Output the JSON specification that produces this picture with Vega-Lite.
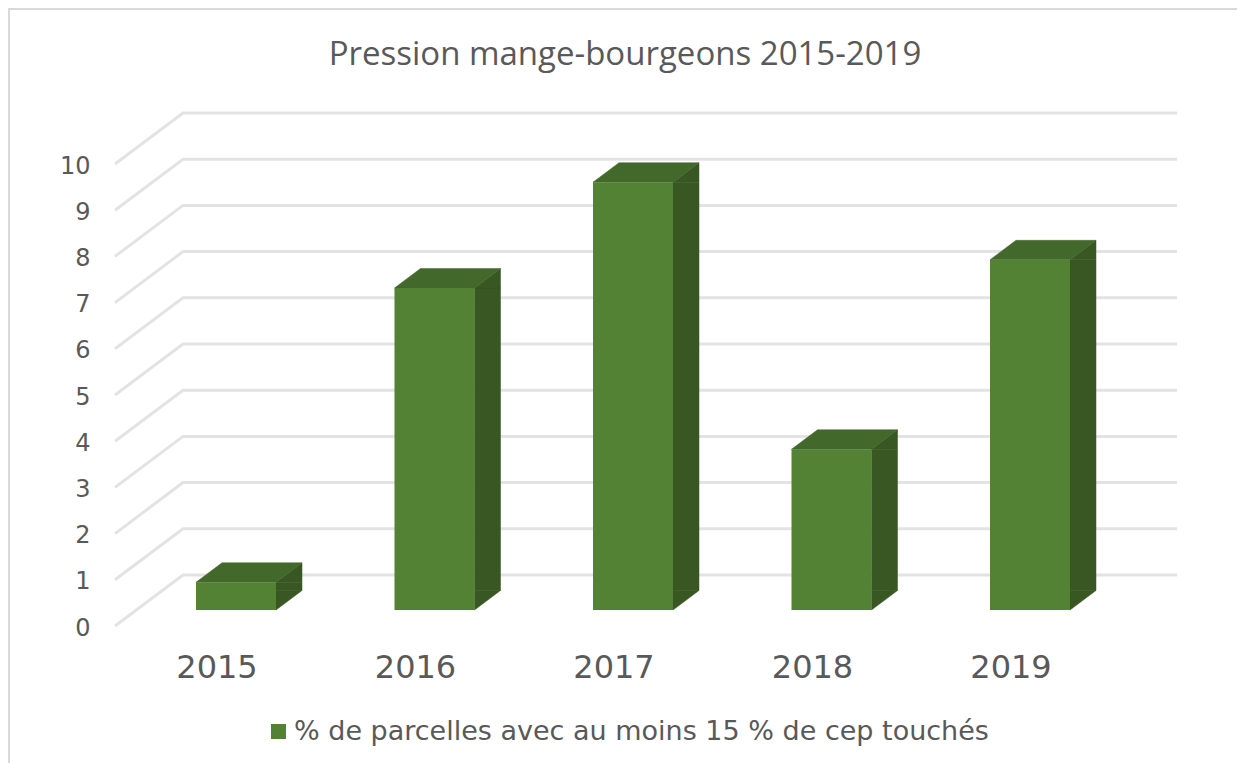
{
"$schema":"https://vega.github.io/schema/vega-lite/v6.json",
"width":992.5,"height":462,
"autosize":{"type":"none"},
"padding":{"left":136.75,"top":148,"right":108.75,"bottom":153},
"background":"white",
"title":{"text":"Pression mange-bourgeons 2015-2019","font":"Open Sans","fontSize":33,"fontWeight":"normal","color":"#595959","anchor":"middle","frame":"group","dx":-8,"offset":-93,"baseline":"alphabetic"},
"config":{"view":{"stroke":null}},
"data":{"values":[
{"annee":"2015","valeur":0.6,"serie":"% de parcelles avec au moins 15 % de cep touchés"},
{"annee":"2016","valeur":6.97,"serie":"% de parcelles avec au moins 15 % de cep touchés"},
{"annee":"2017","valeur":9.26,"serie":"% de parcelles avec au moins 15 % de cep touchés"},
{"annee":"2018","valeur":3.48,"serie":"% de parcelles avec au moins 15 % de cep touchés"},
{"annee":"2019","valeur":7.58,"serie":"% de parcelles avec au moins 15 % de cep touchés"}
]},
"datasets":{"graduations":[{"g":0},{"g":1},{"g":2},{"g":3},{"g":4},{"g":5},{"g":6},{"g":7},{"g":8},{"g":9},{"g":10}]},
"layer":[
{"mark":{"type":"point","shape":"M-227 153L-227 -601L1001 -601","size":4,"filled":false,"stroke":"#d9d9d9","strokeWidth":2,"opacity":1},
 "encoding":{"x":{"datum":"2015"},"y":{"datum":0}}},
{"data":{"name":"graduations"},
 "mark":{"type":"point","shape":"M-121 16L-53 -35L941 -35","size":4,"filled":false,"stroke":"#e3e3e3","strokeWidth":3,"opacity":1},
 "encoding":{"x":{"datum":"2015"},"y":{"field":"g","type":"quantitative"}}},
{"mark":{"type":"bar","width":26,"xOffset":53,"y2Offset":-19.5,"fill":"#385723","stroke":"#385723","strokeWidth":0.5},
 "encoding":{"x":{"field":"annee","type":"nominal"},"y":{"field":"valeur","type":"quantitative"},"y2":{"datum":0}}},
{"mark":{"type":"point","shape":"M40 0L66 -19.5L66 0Z","size":4,"filled":true,"fill":"#385723","stroke":"#385723","strokeWidth":0.5,"strokeJoin":"round","opacity":1},
 "encoding":{"x":{"field":"annee","type":"nominal"},"y":{"field":"valeur","type":"quantitative"}}},
{"mark":{"type":"point","shape":"M40 0L66 -19.5L40 -19.5Z","size":4,"filled":true,"fill":"#385723","stroke":"#385723","strokeWidth":0.5,"strokeJoin":"round","opacity":1},
 "encoding":{"x":{"field":"annee","type":"nominal"},"y":{"datum":0}}},
{"mark":{"type":"point","shape":"M-40 0L40 0L66 -19.5L-14 -19.5Z","size":4,"filled":true,"fill":"#43682b","stroke":"#43682b","strokeWidth":0.5,"strokeJoin":"round","opacity":1},
 "encoding":{"x":{"field":"annee","type":"nominal"},"y":{"field":"valeur","type":"quantitative"}}},
{"mark":{"type":"bar","width":80},
 "encoding":{
  "x":{"field":"annee","type":"nominal","title":null,"sort":["2015","2016","2017","2018","2019"],
   "scale":{"paddingInner":0,"paddingOuter":0},
   "axis":{"domain":false,"ticks":false,"labelAngle":0,"labelAlign":"center","labelFont":"DejaVu Sans","labelFontSize":32,"labelColor":"#595959","labelOffset":-19,"labelPadding":57,"grid":false}},
  "y":{"field":"valeur","type":"quantitative","title":null,
   "scale":{"domain":[0,10],"nice":false,"zero":true},
   "axis":{"domain":false,"ticks":false,"grid":false,"values":[0,1,2,3,4,5,6,7,8,9,10],"labelFont":"DejaVu Sans","labelFontSize":24,"labelColor":"#595959","labelPadding":46.75,"labelOffset":18}},
  "y2":{"datum":0},
  "color":{"field":"serie","type":"nominal","title":null,"scale":{"range":["#548235"]},
   "legend":{"orient":"none","legendX":128.25,"legendY":570,"symbolType":"square","symbolSize":225,"symbolStrokeWidth":0,"labelFont":"DejaVu Sans","labelFontSize":27,"labelColor":"#595959","labelLimit":800,"padding":0,"labelOffset":2}}
 }}
]
}
